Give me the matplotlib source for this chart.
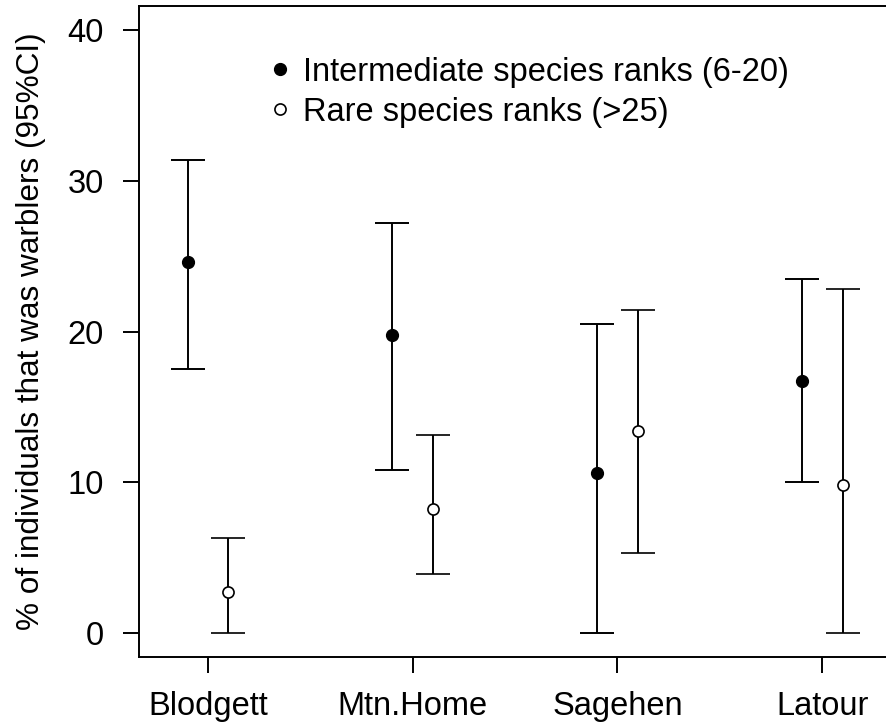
import matplotlib
matplotlib.use('Agg')
import matplotlib.pyplot as plt
from matplotlib.lines import Line2D
import numpy as np

sites = ['Blodgett', 'Mtn.Home', 'Sagehen', 'Latour']

# intermediate species ranks (6-20)
inter_mean = [24.6, 19.8, 10.6, 16.7]
inter_low = [17.5, 10.8, 0.0, 10.0]
inter_high = [31.4, 27.2, 20.5, 23.5]

# rare species ranks (>25)
rare_mean = [2.7, 8.2, 13.4, 9.8]
rare_low = [0.0, 3.9, 5.3, 0.0]
rare_high = [6.3, 13.1, 21.4, 22.8]

plt.rcParams['font.family'] = ['Liberation Sans', 'DejaVu Sans']
plt.rcParams['font.size'] = 23.5

fig = plt.figure(figsize=(8.86, 7.24), dpi=100)
ax = fig.add_axes([139 / 886, 67 / 724, (905 - 139) / 886, 651 / 724])

x = np.arange(1, len(sites) + 1)
off = 0.1

inter_err = [np.array(inter_mean) - np.array(inter_low), np.array(inter_high) - np.array(inter_mean)]
rare_err = [np.array(rare_mean) - np.array(rare_low), np.array(rare_high) - np.array(rare_mean)]

ax.errorbar(x - off, inter_mean, yerr=inter_err, fmt='o', color='black', ms=8.5,
            capsize=12, elinewidth=1.4, capthick=1.4)
ax.errorbar(x + off, rare_mean, yerr=rare_err, fmt='o', color='black', mfc='white', mec='black',
            mew=1.2, ms=8, capsize=12, elinewidth=1.4, capthick=1.4)

ax.set_xlim(0.663, 1 + (905 - 208) / 204.7)
ax.set_ylim(-1.6, 41.6)
ax.set_xticks(x)
ax.set_xticklabels(sites)
ax.set_yticks([0, 10, 20, 30, 40])
ax.tick_params(axis='both', length=11.5, width=1.4, direction='out')
ax.tick_params(axis='y', pad=14)
ax.tick_params(axis='x', pad=13)
for s in ax.spines.values():
    s.set_linewidth(1.4)

ax.set_ylabel('% of individuals that was warblers (95%CI)', fontsize=22.7, labelpad=15)

# legend without box, markers only
h = [Line2D([], [], marker='o', ls='none', color='black', ms=8.5),
     Line2D([], [], marker='o', ls='none', mfc='white', mec='black', mew=1.2, ms=8)]
ax.legend(h, ['Intermediate species ranks (6-20)', 'Rare species ranks (>25)'],
          loc='upper left', bbox_to_anchor=(0.127, 0.967), frameon=False,
          handletextpad=0.25, handlelength=0.9, labelspacing=0.27)

fig.savefig('out.png', dpi=100)
